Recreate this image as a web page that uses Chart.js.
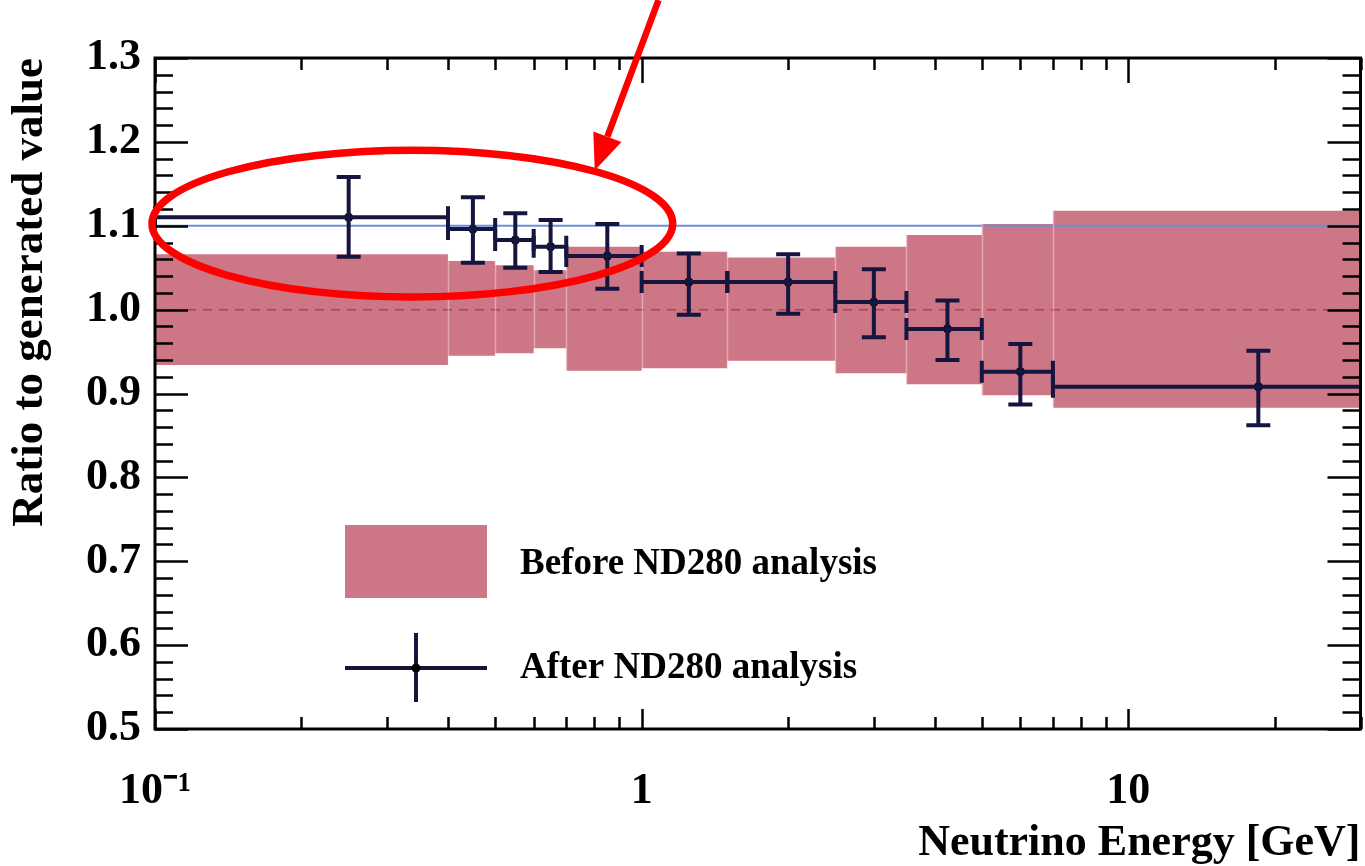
<!DOCTYPE html>
<html>
<head>
<meta charset="utf-8">
<script src="https://cdn.jsdelivr.net/npm/chart.js@4/dist/chart.umd.min.js"></script>
<style>
html,body{margin:0;padding:0;background:#fff;}
#wrap{width:1365px;height:866px;position:relative;}
</style>
</head>
<body>
<div id="wrap"><canvas id="c"></canvas></div>
<script>
// ---------- data ----------
const binEdges      = [0.1, 0.4, 0.5, 0.6, 0.7, 1.0, 1.5, 2.5, 3.5, 5, 7, 30];
const binCenters    = [0.25, 0.45, 0.55, 0.65, 0.85, 1.25, 2.0, 3.0, 4.25, 6.0, 18.5];
const afterValues   = [1.110, 1.096, 1.083, 1.075, 1.064, 1.033, 1.033, 1.009, 0.977, 0.926, 0.908];
const afterErrHigh  = [1.158, 1.134, 1.115, 1.107, 1.102, 1.067, 1.066, 1.048, 1.011, 0.959, 0.951];
const afterErrLow   = [1.063, 1.056, 1.050, 1.045, 1.025, 0.994, 0.995, 0.967, 0.940, 0.887, 0.862];
const beforeUpper   = [1.066, 1.058, 1.053, 1.047, 1.075, 1.069, 1.062, 1.075, 1.089, 1.102, 1.118];
const beforeLower   = [0.934, 0.945, 0.948, 0.954, 0.927, 0.930, 0.939, 0.924, 0.911, 0.898, 0.883];
const referenceValue = 1.0;
const highlightValue = 1.1;
const yTickValues   = [0.5, 0.6, 0.7, 0.8, 0.9, 1.0, 1.1, 1.2, 1.3];
const xTickValues   = [0.1, 1, 10];
const xTickLabels   = ['10\u207B\u00B9', '1', '10'];
const seriesLabels  = ['Before ND280 analysis', 'After ND280 analysis'];
const xTitle = 'Neutrino Energy [GeV]';
const yTitle = 'Ratio to generated value';

// ---------- styles ----------
const PINK = '#cd7685';
const NAVY = '#15153f';
const SERIF = "'Liberation Serif', 'Times New Roman', serif";

// stepped edge datasets built from the bin arrays
const upperPts = binEdges.map((e, i) => ({x: e, y: beforeUpper[Math.min(i, beforeUpper.length - 1)]}));
const lowerPts = binEdges.map((e, i) => ({x: e, y: beforeLower[Math.min(i, beforeLower.length - 1)]}));
const pointPts = binCenters.map((c, i) => ({x: c, y: afterValues[i]}));

// faint separators between the "before" boxes
const bandEdges = {
  id: 'bandEdges',
  afterDatasetsDraw(chart) {
    const {ctx, scales: {x, y}} = chart;
    ctx.save();
    ctx.strokeStyle = 'rgba(255,235,238,0.45)';
    ctx.lineWidth = 1.5;
    ctx.beginPath();
    for (let i = 1; i < binEdges.length - 1; i++) {
      const px = Math.round(x.getPixelForValue(binEdges[i])) + 0.5;
      const top = y.getPixelForValue(Math.max(beforeUpper[i - 1], beforeUpper[i]));
      const bot = y.getPixelForValue(Math.min(beforeLower[i - 1], beforeLower[i]));
      ctx.moveTo(px, top); ctx.lineTo(px, bot);
    }
    ctx.stroke();
    ctx.restore();
  }
};

// error bars plugin (uses the chart scales)
const errorBars = {
  id: 'errorBars',
  afterDatasetsDraw(chart) {
    const {ctx, scales: {x, y}} = chart;
    ctx.save();
    ctx.strokeStyle = NAVY;
    ctx.lineWidth = 4;
    ctx.lineCap = 'butt';
    const capH = 11, capV = 12;
    binCenters.forEach((c, i) => {
      const px = x.getPixelForValue(c);
      const py = y.getPixelForValue(afterValues[i]);
      const xl = x.getPixelForValue(binEdges[i]);
      const xr = x.getPixelForValue(binEdges[i + 1]);
      const yh = y.getPixelForValue(afterErrHigh[i]);
      const yl = y.getPixelForValue(afterErrLow[i]);
      ctx.beginPath();
      ctx.moveTo(xl, py); ctx.lineTo(xr, py);
      ctx.moveTo(px, yh); ctx.lineTo(px, yl);
      ctx.moveTo(px - capV, yh); ctx.lineTo(px + capV, yh);
      ctx.moveTo(px - capV, yl); ctx.lineTo(px + capV, yl);
      ctx.moveTo(xl, py - capH); ctx.lineTo(xl, py + capH);
      if (xr < chart.chartArea.right - 2) { ctx.moveTo(xr, py - capH); ctx.lineTo(xr, py + capH); }
      ctx.stroke();
    });
    ctx.restore();
  }
};

// frame + inside ticks (ROOT style)
const frameTicks = {
  id: 'frameTicks',
  afterDraw(chart) {
    const {ctx, chartArea: a, scales: {x, y}} = chart;
    ctx.save();
    ctx.strokeStyle = '#000';
    ctx.lineWidth = 3;
    ctx.strokeRect(a.left, a.top, a.right - a.left, a.bottom - a.top);
    ctx.lineWidth = 2.5;
    ctx.beginPath();
    const yMin = yTickValues[0], yMax = yTickValues[yTickValues.length - 1];
    const nMinor = Math.round((yMax - yMin) / 0.02);
    for (let i = 0; i <= nMinor; i++) {
      const v = yMin + i * 0.02;
      const py = Math.round(y.getPixelForValue(v)) + 0.5;
      const L = (i % 5 === 0) ? 33 : 18;
      ctx.moveTo(a.left, py); ctx.lineTo(a.left + L, py);
      ctx.moveTo(a.right, py); ctx.lineTo(a.right - L, py);
    }
    for (const d of xTickValues) {
      for (let k = 1; k <= 9; k++) {
        const v = k * d;
        if (v < x.min - 1e-9 || v > x.max + 1e-9) continue;
        const px = Math.round(x.getPixelForValue(v)) + 0.5;
        const Lb = (k === 1) ? 20 : 12;
        const Lt = (k === 1) ? 25 : 12;
        ctx.moveTo(px, a.bottom); ctx.lineTo(px, a.bottom - Lb);
        ctx.moveTo(px, a.top); ctx.lineTo(px, a.top + Lt);
      }
    }
    ctx.stroke();
    ctx.restore();
  }
};

// legend drawn inside the plot
const innerLegend = {
  id: 'innerLegend',
  afterDraw(chart) {
    const {ctx} = chart;
    ctx.save();
    ctx.fillStyle = PINK;
    ctx.fillRect(345, 525, 142, 73);
    ctx.strokeStyle = NAVY;
    ctx.lineWidth = 4;
    ctx.beginPath();
    ctx.moveTo(345, 668); ctx.lineTo(487, 668);
    ctx.moveTo(416, 633); ctx.lineTo(416, 702);
    ctx.stroke();
    ctx.fillStyle = '#000';
    ctx.beginPath(); ctx.arc(416, 668, 4.5, 0, Math.PI * 2); ctx.fill();
    ctx.font = 'bold 37px ' + SERIF;
    ctx.textBaseline = 'middle';
    ctx.textAlign = 'left';
    ctx.fillText(seriesLabels[0], 520, 564);
    ctx.fillText(seriesLabels[1], 520, 668);
    ctx.restore();
  }
};

// red annotation (ellipse + arrow) in data coordinates
const annotationShape = {ellipse: {x0: 0.0986, x1: 1.158, y0: 1.015, y1: 1.19}, arrow: {fromX: 1.083, fromY: 1.369, toX: 0.801, toY: 1.166}};
const redAnnotation = {
  id: 'redAnnotation',
  afterDraw(chart) {
    const {ctx, scales: {x, y}} = chart;
    const e = annotationShape.ellipse, ar = annotationShape.arrow;
    const xl = x.getPixelForValue(e.x0), xr = x.getPixelForValue(e.x1);
    const yt = y.getPixelForValue(e.y1), yb = y.getPixelForValue(e.y0);
    ctx.save();
    ctx.strokeStyle = '#ff0000';
    ctx.fillStyle = '#ff0000';
    ctx.lineWidth = 7.5;
    ctx.beginPath();
    ctx.ellipse((xl + xr) / 2, (yt + yb) / 2, (xr - xl) / 2, (yb - yt) / 2, 0, 0, Math.PI * 2);
    ctx.stroke();
    const fx = x.getPixelForValue(ar.fromX), fy = y.getPixelForValue(ar.fromY);
    const tx = x.getPixelForValue(ar.toX), ty = y.getPixelForValue(ar.toY);
    const ang = Math.atan2(ty - fy, tx - fx);
    const headL = 36, headW = 15;
    const bx = tx - headL * Math.cos(ang), by = ty - headL * Math.sin(ang);
    ctx.lineWidth = 6.5;
    ctx.beginPath(); ctx.moveTo(fx, fy); ctx.lineTo(bx, by); ctx.stroke();
    ctx.beginPath();
    ctx.moveTo(tx, ty);
    ctx.lineTo(bx + headW * Math.sin(ang), by - headW * Math.cos(ang));
    ctx.lineTo(bx - headW * Math.sin(ang), by + headW * Math.cos(ang));
    ctx.closePath(); ctx.fill();
    ctx.restore();
  }
};

new Chart(document.getElementById('c'), {
  type: 'line',
  data: {
    datasets: [
      {label: seriesLabels[1], data: pointPts, showLine: false, pointRadius: 4.5, pointBackgroundColor: '#000', pointBorderWidth: 0, order: 0},
      {label: 'highlight', data: [{x: binEdges[0], y: highlightValue}, {x: binEdges[binEdges.length - 1], y: highlightValue}],
        borderColor: '#6a8fd8', borderWidth: 2, pointRadius: 0, order: 1},
      {label: 'reference', data: [{x: binEdges[0], y: referenceValue}, {x: binEdges[binEdges.length - 1], y: referenceValue}],
        borderColor: 'rgba(165,45,70,0.75)', borderWidth: 1.5, borderDash: [9, 7], pointRadius: 0, order: 2},
      {label: seriesLabels[0] + ' upper', data: upperPts, stepped: 'before', borderWidth: 0, borderColor: PINK, pointRadius: 0, fill: false, order: 5},
      {label: seriesLabels[0], data: lowerPts, stepped: 'before', borderWidth: 0, borderColor: PINK, backgroundColor: PINK, pointRadius: 0, fill: '-1', order: 6}
    ]
  },
  options: {
    responsive: true,
    maintainAspectRatio: false,
    animation: false,
    layout: {padding: {top: 58, right: 3, left: 0, bottom: 0}},
    plugins: {legend: {display: false}, tooltip: {enabled: false}},
    scales: {
      x: {
        type: 'logarithmic', min: 0.1, max: 30,
        grid: {display: false, drawTicks: false},
        border: {display: false},
        afterBuildTicks(scale) { scale.ticks = xTickValues.map(v => ({value: v})); },
        afterFit(scale) { scale.height = 137; },
        ticks: {
          autoSkip: false, maxRotation: 0, padding: 36, color: '#000',
          font: {family: SERIF, size: 44, weight: 'bold'},
          callback(v) { const i = xTickValues.indexOf(v); return i >= 0 ? xTickLabels[i] : ''; }
        },
        title: {display: true, text: xTitle, align: 'end', color: '#000', padding: 0,
          font: {family: SERIF, size: 44, weight: 'bold', lineHeight: 1.0}}
      },
      y: {
        type: 'linear', min: 0.5, max: 1.3,
        grid: {display: false, drawTicks: false},
        border: {display: false},
        afterBuildTicks(scale) { scale.ticks = yTickValues.map(v => ({value: v})); },
        afterFit(scale) { scale.width = 155; },
        ticks: {
          padding: 14, color: '#000',
          font: {family: SERIF, size: 44, weight: 'bold'},
          callback(v) { return Number(v).toFixed(1); }
        },
        title: {display: true, text: yTitle, align: 'end', color: '#000', padding: {top: 8, bottom: 0},
          font: {family: SERIF, size: 45, weight: 'bold', lineHeight: 1.0}}
      }
    }
  },
  plugins: [bandEdges, errorBars, frameTicks, innerLegend, redAnnotation]
});
</script>
</body>
</html>
